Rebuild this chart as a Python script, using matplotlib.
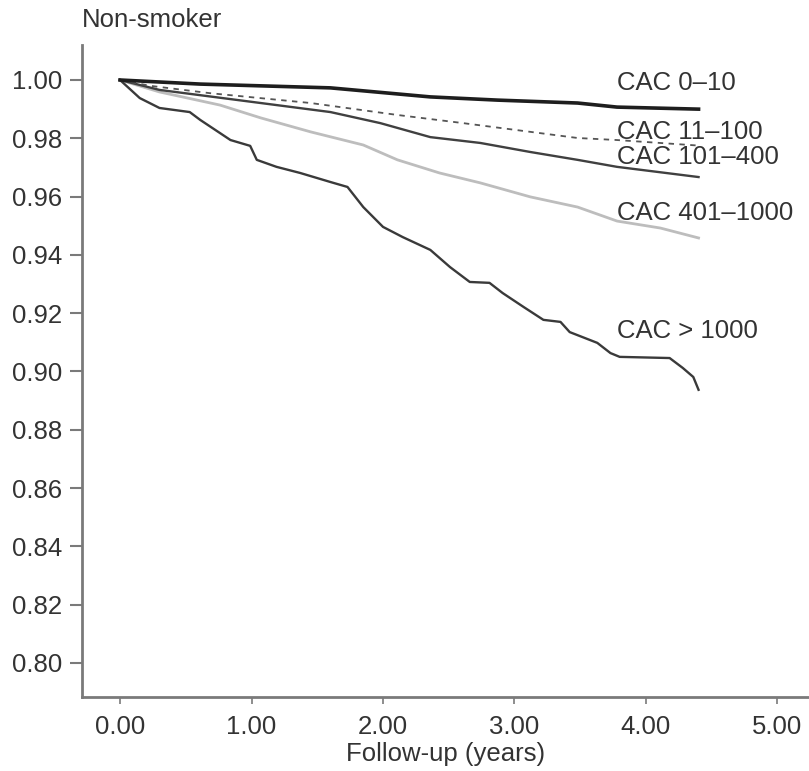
import matplotlib.pyplot as plt

plt.rcParams['font.family'] = ['Liberation Sans', 'DejaVu Sans']

# Kaplan-Meier survival, non-smokers, by coronary artery calcium group
t_0_10 = [0.0, 0.61, 1.60, 2.36, 2.87, 3.48, 3.78, 4.40]
s_0_10 = [1.000, 0.9986, 0.9973, 0.9942, 0.9931, 0.9921, 0.9907, 0.9900]

t_11_100 = [0.0, 0.23, 0.68, 1.45, 2.11, 2.61, 3.02, 3.48, 3.78, 4.40]
s_11_100 = [1.000, 0.998, 0.9955, 0.9921, 0.988, 0.9852, 0.9828, 0.9801, 0.9794, 0.9775]

t_101_400 = [0.0, 0.30, 1.07, 1.60, 1.98, 2.36, 2.74, 3.12, 3.48, 3.78, 4.40]
s_101_400 = [1.000, 0.9966, 0.9921, 0.989, 0.9852, 0.9804, 0.9784, 0.9753, 0.9726, 0.9702, 0.9667]

t_401_1000 = [0.0, 0.30, 0.76, 1.07, 1.45, 1.85, 2.11, 2.43, 2.74, 3.12, 3.48, 3.78, 4.11, 4.40]
s_401_1000 = [1.000, 0.9959, 0.9914, 0.987, 0.9822, 0.9777, 0.9726, 0.9681, 0.9647, 0.9599,
              0.9564, 0.9516, 0.9492, 0.9458]

t_gt_1000 = [0.0, 0.15, 0.30, 0.53, 0.61, 0.76, 0.84, 0.99, 1.04, 1.19, 1.37, 1.60, 1.73,
             1.85, 2.00, 2.15, 2.36, 2.51, 2.66, 2.81, 2.91, 3.07, 3.22, 3.35, 3.42, 3.63,
             3.73, 3.80, 4.18, 4.28, 4.36, 4.40]
s_gt_1000 = [1.000, 0.9938, 0.9904, 0.989, 0.9863, 0.9818, 0.9794, 0.9774, 0.9726, 0.9702,
             0.9681, 0.965, 0.9633, 0.9564, 0.9496, 0.9461, 0.9417, 0.9358, 0.9307, 0.9304,
             0.9269, 0.9221, 0.9177, 0.917, 0.9135, 0.9098, 0.9063, 0.905, 0.9046, 0.9012,
             0.8981, 0.8937]

labels = ['CAC 0\u201310', 'CAC 11\u2013100', 'CAC 101\u2013400', 'CAC 401\u20131000', 'CAC > 1000']
label_y = [0.9990, 0.9822, 0.9736, 0.9545, 0.9140]

xticks = [0, 1, 2, 3, 4, 5]
yticks = [0.80, 0.82, 0.84, 0.86, 0.88, 0.90, 0.92, 0.94, 0.96, 0.98, 1.00]

fs = 18.5

fig = plt.figure(figsize=(8.09, 7.71), dpi=100)
ax = fig.add_axes([0.1014, 0.096, 0.8986, 0.8456])

ax.plot(t_401_1000, s_401_1000, color='#bdbdbd', lw=2.0)
ax.plot(t_gt_1000, s_gt_1000, color='#3a3a3a', lw=1.7)
ax.plot(t_101_400, s_101_400, color='#404040', lw=1.7)
ax.plot(t_11_100, s_11_100, color='#555555', lw=1.3, ls=(0, (3, 3)))
ax.plot(t_0_10, s_0_10, color='#1e1e1e', lw=2.6)

for lab, yy in zip(labels, label_y):
    ax.text(3.78, yy, lab, fontsize=fs, color='#333333', va='center', ha='left')

ax.set_xlim(-0.289, 5.24)
ax.set_ylim(0.7883, 1.012)
ax.set_xticks(xticks)
ax.set_xticklabels(['%.2f' % v for v in xticks])
ax.set_yticks(yticks)
ax.set_yticklabels(['%.2f' % v for v in yticks])

for side in ['top', 'right']:
    ax.spines[side].set_visible(False)
for side in ['left', 'bottom']:
    ax.spines[side].set_color('#7a7a7a')
    ax.spines[side].set_linewidth(2.0)

ax.tick_params(axis='y', length=9, width=1.5, color='#7a7a7a', labelsize=fs,
               labelcolor='#333333', pad=5)
ax.tick_params(axis='x', length=5, width=1.2, color='#7a7a7a', labelsize=fs,
               labelcolor='#333333', pad=8)

ax.set_xlabel('Follow-up (years)', fontsize=fs, color='#333333', labelpad=2)
fig.text(0.1014, 0.974, 'Non-smoker', fontsize=fs, color='#333333', va='center', ha='left')

fig.savefig('out.png', dpi=100)
